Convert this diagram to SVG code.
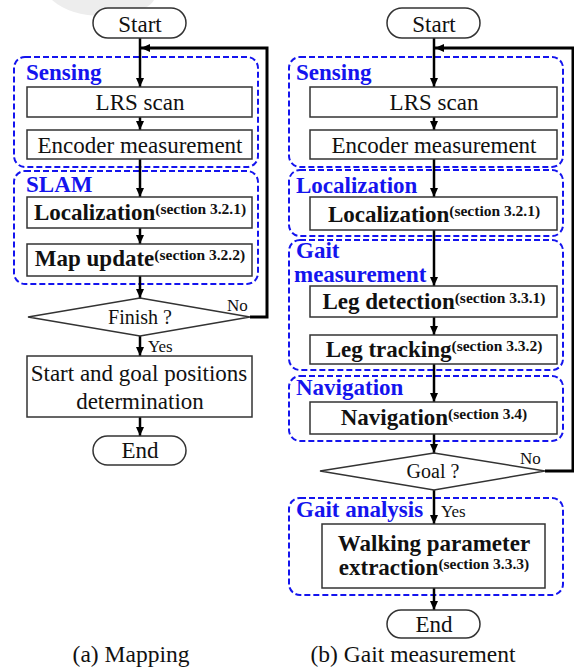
<svg xmlns="http://www.w3.org/2000/svg" width="574" height="668" viewBox="0 0 574 668">
  <style>
    text { font-family: Liberation Serif, Tinos, Times New Roman, Times, Noto Serif, DejaVu Serif, serif; fill: #111; }
    .t { font-size: 23px; text-anchor: middle; }
    .b { font-size: 23px; font-weight: bold; text-anchor: middle; }
    .sup { font-size: 15.5px; font-weight: bold; }
    .lbl { font-size: 23px; font-weight: bold; fill: #1414ee; }
    .dec { font-size: 20px; text-anchor: middle; }
    .small { font-size: 17px; }
    .cap { font-size: 23.5px; text-anchor: middle; }
    .box { fill: #fff; stroke: #333; stroke-width: 1.5; }
    .grp { fill: none; stroke: #1414ee; stroke-width: 2; stroke-dasharray: 6 3; }
    .line { fill: none; stroke: #000; stroke-width: 2.5; }
    .loop { fill: none; stroke: #000; stroke-width: 3; }
  </style>
  <defs>
    <marker id="ah" markerUnits="userSpaceOnUse" markerWidth="9" markerHeight="8" refX="9" refY="4" orient="auto">
      <path d="M0,0 L9,4 L0,8 Z" fill="#000"/>
    </marker>
  </defs>

  <!-- faint background mark -->
  <path d="M52 0 Q75 20 120 15 Q148 11 154 0 Z" fill="#ededed"/>

  <!-- group frames -->
  <g id="groups">
    <rect id="g-sensing-a" class="grp" x="14" y="57" width="244" height="110" rx="11"/>
    <rect id="g-slam" class="grp" x="14" y="171" width="244" height="113" rx="11"/>
    <rect id="g-sensing-b" class="grp" x="289" y="57" width="274" height="110" rx="11"/>
    <rect id="g-localization" class="grp" x="289" y="170" width="274" height="66" rx="11"/>
    <rect id="g-gait" class="grp" x="289" y="240" width="274" height="130" rx="11"/>
    <rect id="g-navigation" class="grp" x="289" y="376" width="274" height="65" rx="11"/>
    <rect id="g-analysis" class="grp" x="289" y="498" width="274" height="97" rx="11"/>
    <text class="lbl" x="26" y="80">Sensing</text>
    <text class="lbl" x="26" y="192">SLAM</text>
    <text class="lbl" x="296" y="80">Sensing</text>
    <text class="lbl" x="296" y="193">Localization</text>
    <text class="lbl" x="296" y="258">Gait</text>
    <text class="lbl" x="294" y="282">measurement</text>
    <text class="lbl" x="296" y="395">Navigation</text>
    <text class="lbl" x="296" y="517">Gait analysis</text>
  </g>

  <!-- connectors -->
  <g id="connectors">
    <line class="line" x1="140" y1="38" x2="140" y2="87" marker-end="url(#ah)"/>
    <line class="line" x1="140" y1="117" x2="140" y2="130" marker-end="url(#ah)"/>
    <line class="line" x1="140" y1="159" x2="140" y2="197" marker-end="url(#ah)"/>
    <line class="line" x1="140" y1="228" x2="140" y2="244" marker-end="url(#ah)"/>
    <line class="line" x1="140" y1="276" x2="140" y2="298" marker-end="url(#ah)"/>
    <line class="line" x1="140" y1="336" x2="140" y2="356" marker-end="url(#ah)"/>
    <line class="line" x1="140" y1="417" x2="140" y2="436" marker-end="url(#ah)"/>
    <polyline class="loop" points="250,317 267,317 267,48 141,48" marker-end="url(#ah)"/>

    <line class="line" x1="434" y1="38" x2="434" y2="87" marker-end="url(#ah)"/>
    <line class="line" x1="434" y1="117" x2="434" y2="130" marker-end="url(#ah)"/>
    <line class="line" x1="434" y1="159" x2="434" y2="197" marker-end="url(#ah)"/>
    <line class="line" x1="434" y1="230" x2="434" y2="286" marker-end="url(#ah)"/>
    <line class="line" x1="434" y1="317" x2="434" y2="335" marker-end="url(#ah)"/>
    <line class="line" x1="434" y1="364" x2="434" y2="402" marker-end="url(#ah)"/>
    <line class="line" x1="434" y1="434" x2="434" y2="453" marker-end="url(#ah)"/>
    <line class="line" x1="434" y1="490" x2="434" y2="524" marker-end="url(#ah)"/>
    <line class="line" x1="434" y1="588" x2="434" y2="610" marker-end="url(#ah)"/>
    <polyline class="loop" points="545,471 573,471 573,48 435,48" marker-end="url(#ah)"/>

    <text class="small" x="227" y="311">No</text>
    <text class="small" x="148" y="352" font-size="16">Yes</text>
    <text class="small" x="520" y="464">No</text>
    <text class="small" x="441" y="517" font-size="16">Yes</text>
  </g>

  <!-- (a) mapping flow -->
  <g id="a-start">
    <rect class="box" x="93" y="8" width="93" height="30" rx="15"/>
    <text class="t" x="140" y="32">Start</text>
  </g>
  <g id="a-lrs">
    <rect class="box" x="27" y="87" width="225" height="30"/>
    <text class="t" x="140" y="110">LRS scan</text>
  </g>
  <g id="a-encoder">
    <rect class="box" x="27" y="130" width="225" height="29"/>
    <text class="t" x="140" y="153">Encoder measurement</text>
  </g>
  <g id="a-localization">
    <rect class="box" x="27" y="197" width="225" height="31"/>
    <text class="b" x="140" y="220">Localization<tspan class="sup" dy="-6">(section 3.2.1)</tspan></text>
  </g>
  <g id="a-mapupdate">
    <rect class="box" x="27" y="244" width="225" height="32"/>
    <text class="b" x="140" y="266">Map update<tspan class="sup" dy="-6">(section 3.2.2)</tspan></text>
  </g>
  <g id="a-finish">
    <polygon class="box" points="28,317 140,298 250,317 140,336"/>
    <text class="dec" x="140" y="324">Finish ?</text>
  </g>
  <g id="a-goalpos">
    <rect class="box" x="27" y="356" width="225" height="61"/>
    <text class="t" x="139" y="381">Start and goal positions</text>
    <text class="t" x="140" y="409">determination</text>
  </g>
  <g id="a-end">
    <rect class="box" x="93" y="436" width="93" height="29" rx="14.5"/>
    <text class="t" x="140" y="458">End</text>
  </g>
  <text class="cap" x="131" y="662">(a) Mapping</text>

  <!-- (b) gait measurement flow -->
  <g id="b-start">
    <rect class="box" x="387" y="8" width="93" height="30" rx="15"/>
    <text class="t" x="434" y="32">Start</text>
  </g>
  <g id="b-lrs">
    <rect class="box" x="310" y="87" width="247" height="30"/>
    <text class="t" x="434" y="110">LRS scan</text>
  </g>
  <g id="b-encoder">
    <rect class="box" x="310" y="130" width="247" height="29"/>
    <text class="t" x="434" y="153">Encoder measurement</text>
  </g>
  <g id="b-localization">
    <rect class="box" x="310" y="197" width="247" height="33"/>
    <text class="b" x="434" y="222">Localization<tspan class="sup" dy="-6">(section 3.2.1)</tspan></text>
  </g>
  <g id="b-legdetect">
    <rect class="box" x="310" y="286" width="247" height="31"/>
    <text class="b" x="434" y="309">Leg detection<tspan class="sup" dy="-6">(section 3.3.1)</tspan></text>
  </g>
  <g id="b-legtrack">
    <rect class="box" x="310" y="335" width="247" height="29"/>
    <text class="b" x="434" y="357">Leg tracking<tspan class="sup" dy="-6">(section 3.3.2)</tspan></text>
  </g>
  <g id="b-navigation">
    <rect class="box" x="310" y="402" width="247" height="32"/>
    <text class="b" x="434" y="425">Navigation<tspan class="sup" dy="-6">(section 3.4)</tspan></text>
  </g>
  <g id="b-goal">
    <polygon class="box" points="320,471 434,453 545,471 434,490"/>
    <text class="dec" x="433" y="478">Goal ?</text>
  </g>
  <g id="b-walking">
    <rect class="box" x="322" y="524" width="223" height="64"/>
    <text class="b" x="434" y="551">Walking parameter</text>
    <text class="b" x="434" y="575">extraction<tspan class="sup" dy="-6">(section 3.3.3)</tspan></text>
  </g>
  <g id="b-end">
    <rect class="box" x="387" y="610" width="93" height="28" rx="14"/>
    <text class="t" x="434" y="632">End</text>
  </g>
  <text class="cap" x="413" y="662">(b) Gait measurement</text>
</svg>
